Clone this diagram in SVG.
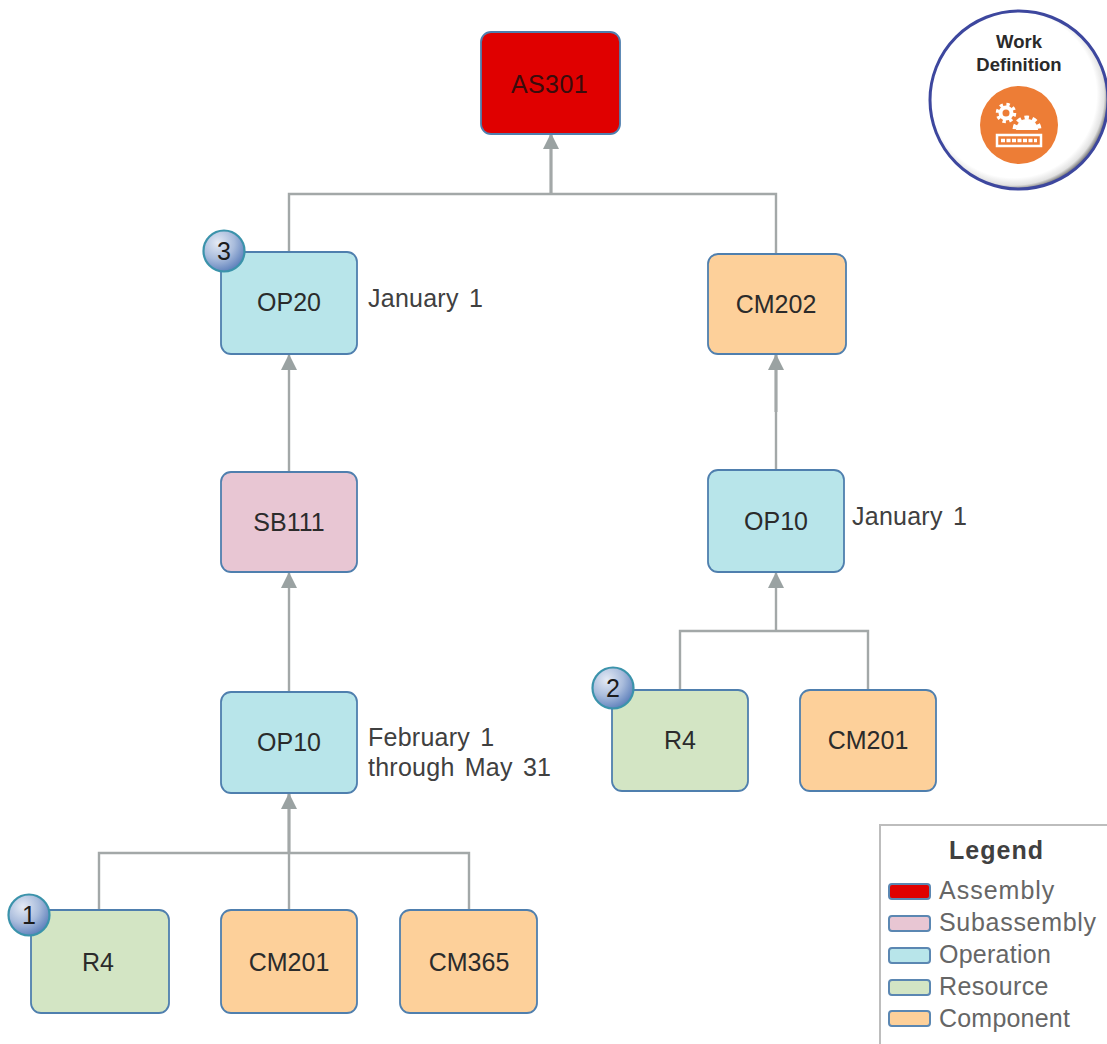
<svg xmlns="http://www.w3.org/2000/svg" width="1107" height="1044" viewBox="0 0 1107 1044">
<style>
.n{stroke:#4f7fae;stroke-width:1.8}
.as{fill:#e00000}.sb{fill:#e8c6d3}.op{fill:#b8e5ea}.re{fill:#d3e5c4}.co{fill:#fdd09a}
.t{font-family:"Liberation Sans",Arial,sans-serif;font-size:25px;fill:#2b2b2b;text-anchor:middle}
.l{font-family:"Liberation Sans",Arial,sans-serif;font-size:25px;fill:#404040;word-spacing:3px;letter-spacing:.25px}
.c{fill:none;stroke:#a3a8a8;stroke-width:2.4}
.c2{fill:none;stroke:#a3a8a8;stroke-width:3.2}
.b{fill:url(#ball);stroke:#3b93ab;stroke-width:2.2}
.bt{font-family:"Liberation Sans",Arial,sans-serif;font-size:25px;fill:#1c1c1c;text-anchor:middle}
.lg{font-family:"Liberation Sans",Arial,sans-serif;font-size:25px;fill:#666}
.s{stroke:#5b87b2;stroke-width:2}
.wd{font-family:"Liberation Sans",Arial,sans-serif;font-size:18.500px;font-weight:700;fill:#2a2a2a;text-anchor:middle}
</style>
<defs>
<marker id="a" markerUnits="userSpaceOnUse" markerWidth="16" markerHeight="18" refX="15" refY="8" orient="auto"><path d="M0 0L16 8L0 16Z" fill="#9aa2a2"/></marker>
<radialGradient id="ball" cx="0.35" cy="0.3" r="0.8"><stop offset="0" stop-color="#e4eaf5"/><stop offset="0.5" stop-color="#a9bcdc"/><stop offset="1" stop-color="#4f74b5"/></radialGradient>
<radialGradient id="disc" cx="0.47" cy="0.47" r="0.53"><stop offset="0.88" stop-color="#fff"/><stop offset="0.96" stop-color="#e2e2e2"/><stop offset="1" stop-color="#8a8a8a"/></radialGradient>
<clipPath id="gc"><rect x="1008" y="105" width="40" height="25"/></clipPath>
</defs>
<rect width="1107" height="1044" fill="#fff"/>
<g id="connectors">
<path class="c" d="M289 252V194H776V254"/>
<path class="c2" d="M551 194V134" marker-end="url(#a)"/>
<path class="c" d="M289 472V355" marker-end="url(#a)"/>
<path class="c" d="M776 470V412"/>
<path class="c2" d="M776 412V355" marker-end="url(#a)"/>
<path class="c" d="M289 692V573" marker-end="url(#a)"/>
<path class="c" d="M776 631V573" marker-end="url(#a)"/>
<path class="c" d="M680 690V631H868V690"/>
<path class="c" d="M99 910V853H469V910"/>
<path class="c" d="M289 910V853"/>
<path class="c2" d="M289 853V794" marker-end="url(#a)"/>
</g>
<g id="AS301"><rect class="n as" x="481" y="32" width="139" height="102" rx="10"/><text class="t" x="549.500" y="93" style="letter-spacing:.4px;fill:#3a0c0c">AS301</text></g>
<g id="OP20"><rect class="n op" x="221" y="252" width="136" height="102" rx="10"/><text class="t" x="289" y="311">OP20</text><text class="l" x="368" y="307">January 1</text></g>
<g id="CM202"><rect class="n co" x="708" y="254" width="138" height="100" rx="10"/><text class="t" x="776" y="313">CM202</text></g>
<g id="SB111"><rect class="n sb" x="221" y="472" width="136" height="100" rx="10"/><text class="t" x="289" y="531">SB111</text></g>
<g id="OP10-right"><rect class="n op" x="708" y="470" width="136" height="102" rx="10"/><text class="t" x="776" y="530">OP10</text><text class="l" x="852" y="525">January 1</text></g>
<g id="OP10-left"><rect class="n op" x="221" y="692" width="136" height="101" rx="10"/><text class="t" x="289" y="751">OP10</text><text class="l" x="368" y="746">February 1</text><text class="l" x="368" y="776">through May 31</text></g>
<g id="R4-right"><rect class="n re" x="612" y="690" width="136" height="101" rx="10"/><text class="t" x="680" y="749">R4</text></g>
<g id="CM201-right"><rect class="n co" x="800" y="690" width="136" height="101" rx="10"/><text class="t" x="868" y="749">CM201</text></g>
<g id="R4-left"><rect class="n re" x="31" y="910" width="138" height="103" rx="10"/><text class="t" x="98" y="971">R4</text></g>
<g id="CM201-left"><rect class="n co" x="221" y="910" width="136" height="103" rx="10"/><text class="t" x="289" y="971">CM201</text></g>
<g id="CM365"><rect class="n co" x="400" y="910" width="137" height="103" rx="10"/><text class="t" x="469" y="971">CM365</text></g>
<g id="badge-1"><circle class="b" cx="29" cy="915" r="20.500"/><text class="bt" x="29" y="924">1</text></g>
<g id="badge-2"><circle class="b" cx="613" cy="688" r="20.500"/><text class="bt" x="613" y="697">2</text></g>
<g id="badge-3"><circle class="b" cx="224" cy="251" r="20.500"/><text class="bt" x="224" y="260">3</text></g>
<g id="work-definition">
<circle cx="1019" cy="100" r="89" fill="url(#disc)" stroke="#3d479e" stroke-width="3"/>
<text class="wd" x="1019" y="48">Work</text>
<text class="wd" x="1019" y="71">Definition</text>
<circle cx="1019" cy="125" r="39" fill="#ed7d36"/>
<circle cx="1006" cy="113" r="5.500" fill="none" stroke="#fff" stroke-width="4"/>
<circle cx="1006" cy="113" r="8.500" fill="none" stroke="#fff" stroke-width="3.500" stroke-dasharray="3.300 3.400"/>
<path d="M1016 130a11 11 0 0 1 22 0Z" fill="#fff"/>
<circle cx="1027" cy="130" r="12.500" fill="none" stroke="#fff" stroke-width="4" stroke-dasharray="4.500 3.500" clip-path="url(#gc)"/>
<rect x="997" y="135" width="44" height="11" fill="none" stroke="#fff" stroke-width="2.500"/>
<path d="M1001 140.500H1037" stroke="#fff" stroke-width="3.500" stroke-dasharray="4 1.500"/>
</g>
<g id="legend">
<path d="M1107 825H880V1044" fill="#fff" stroke="#bdbdbd" stroke-width="2"/>
<text x="996.500" y="859" font-family="'Liberation Sans',Arial,sans-serif" font-size="25" font-weight="700" fill="#404040" text-anchor="middle" letter-spacing="1">Legend</text>
<rect class="s as" x="889" y="884" width="41" height="15" rx="3"/><text class="lg" x="939" y="899" letter-spacing="1">Assembly</text>
<rect class="s sb" x="889" y="916" width="41" height="15" rx="3"/><text class="lg" x="939" y="931" letter-spacing=".7">Subassembly</text>
<rect class="s op" x="889" y="948" width="41" height="15" rx="3"/><text class="lg" x="939" y="963" letter-spacing=".25">Operation</text>
<rect class="s re" x="889" y="980" width="41" height="15" rx="3"/><text class="lg" x="939" y="995" letter-spacing=".35">Resource</text>
<rect class="s co" x="889" y="1011" width="41" height="15" rx="3"/><text class="lg" x="939" y="1027" letter-spacing=".2">Component</text>
</g>
</svg>
